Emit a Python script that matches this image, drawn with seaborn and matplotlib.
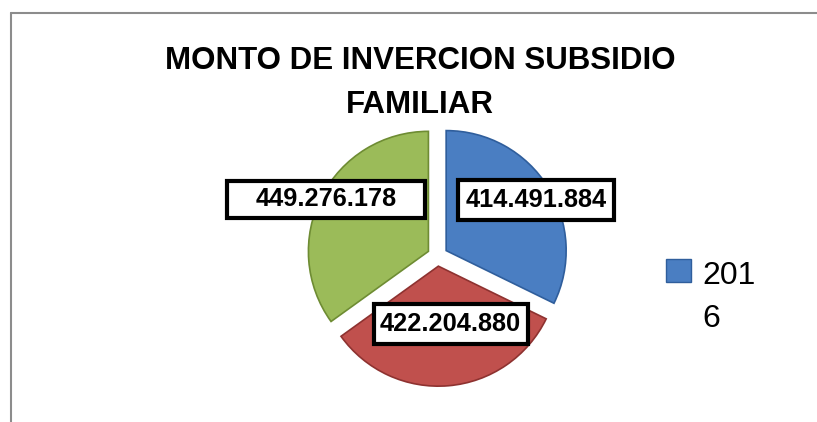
import matplotlib
matplotlib.use("Agg")
import matplotlib.pyplot as plt
from matplotlib.patches import Rectangle
from matplotlib.lines import Line2D
import seaborn as sns

# ---------------------------------------------------------------
# data
# ---------------------------------------------------------------
title = "MONTO DE INVERCION SUBSIDIO\nFAMILIAR"
slice_values = [414491884, 422204880, 449276178]
slice_labels = ["414.491.884", "422.204.880", "449.276.178"]
legend_label = "201\n6"

# layout (pixels of the 817x422 canvas)
W, H = 817, 422
CX, CY, R = 437.5, 256, 123          # pie centre / radius
colors = ["#4A7EC2", "#C0504D", "#9BBB59"]
edges = ["#2F5E9C", "#8E3230", "#6E8C33"]
# label box centres and sizes (px)
box_centres = [(538.5, 198.5), (451, 325.5), (323.5, 198)]
box_sizes = [(159, 41), (158, 41), (203, 38)]

sns.set_style("white")
plt.rcParams["font.family"] = ["Liberation Sans", "DejaVu Sans"]
plt.rcParams["text.color"] = "black"

fig = plt.figure(figsize=(W / 100, H / 100), dpi=100)

half = 150
ax = fig.add_axes([(CX - half) / W, (H - CY - half) / H, 2 * half / W, 2 * half / H])
lim = half / R
ax.set_xlim(-lim, lim)
ax.set_ylim(-lim, lim)
ax.axis("off")

wedges, _ = ax.pie(
    slice_values,
    colors=colors,
    startangle=90,
    counterclock=False,
    explode=[0.085] * len(slice_values),
    radius=1,
    wedgeprops=dict(linewidth=1.2),
)
for w, ec in zip(wedges, edges):
    w.set_edgecolor(ec)

# value labels in black-framed boxes
for text, (bx, by), (bw, bh) in zip(slice_labels, box_centres, box_sizes):
    x = (bx - CX) / R
    y = (CY - by) / R
    ax.add_patch(Rectangle((x - bw / 2 / R, y - bh / 2 / R), bw / R, bh / R,
                           facecolor="white", edgecolor="black", linewidth=3,
                           zorder=5, clip_on=False))
    ax.text(x, y, text, ha="center", va="center", fontsize=18.3,
            fontweight="bold", color="black", zorder=6, clip_on=False)

# title (baseline of the last line)
fig.text(420 / W, (H - 113) / H, title, ha="center", va="baseline",
         multialignment="center", fontsize=22.5, fontweight="bold",
         linespacing=1.63, color="black")

# legend (square marker + wrapped label)
fig.add_artist(Rectangle((666 / W, (H - 282) / H), 25 / W, 23 / H,
                         transform=fig.transFigure, facecolor=colors[0],
                         edgecolor=edges[0], linewidth=1))
fig.text(702 / W, (H - 327) / H, legend_label, ha="left", va="baseline",
         fontsize=23, linespacing=1.55, color="black")

# chart area frame (only top and left edges visible)
frame_kw = dict(color="#8C8C8C", linewidth=1.5, transform=fig.transFigure)
fx, fy = 10.7 / W, (H - 12.7) / H
fig.add_artist(Line2D([fx, fx], [0, fy], **frame_kw))
fig.add_artist(Line2D([fx, 1], [fy, fy], **frame_kw))

fig.savefig("out.png", dpi=100)
